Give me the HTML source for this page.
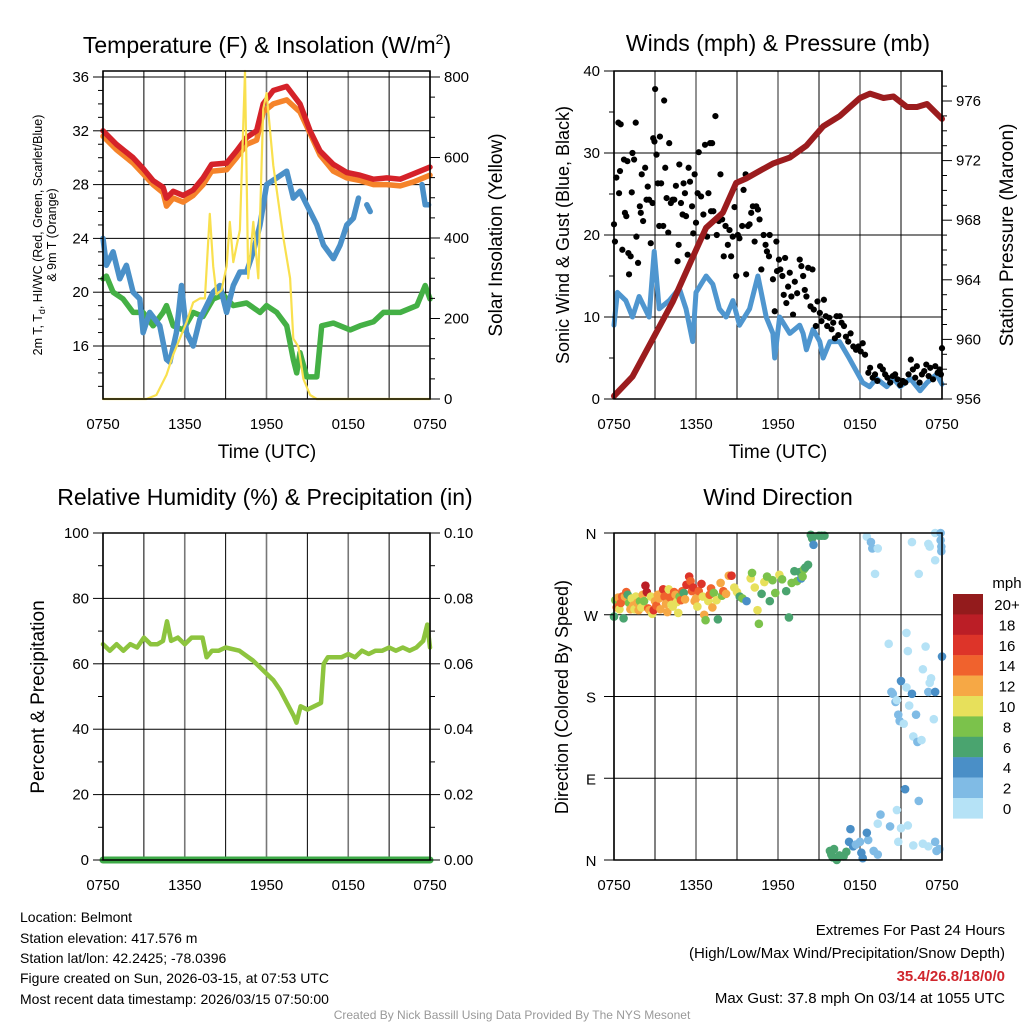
<!DOCTYPE html>
<html><head><meta charset="utf-8">
<style>
html,body{margin:0;padding:0;background:#fff;}
svg{display:block;font-family:"Liberation Sans",Arial,sans-serif;}
</style></head>
<body>
<svg id="chart" width="1024" height="1024" viewBox="0 0 1024 1024" xmlns="http://www.w3.org/2000/svg">
<rect x="0" y="0" width="1024" height="1024" fill="#fff"/>
<text x="267" y="53" font-size="23" text-anchor="middle">Temperature (F) &amp; Insolation (W/m<tspan font-size="14" dy="-9">2</tspan><tspan dy="9">)</tspan></text>
<text x="778" y="51" font-size="23" text-anchor="middle">Winds (mph) &amp; Pressure (mb)</text>
<text x="265" y="505" font-size="23" text-anchor="middle">Relative Humidity (%) &amp; Precipitation (in)</text>
<text x="778" y="505" font-size="23" text-anchor="middle">Wind Direction</text>
<g font-size="14">
<text x="20" y="922">Location: Belmont</text>
<text x="20" y="943">Station elevation: 417.576 m</text>
<text x="20" y="963">Station lat/lon: 42.2425; -78.0396</text>
<text x="20" y="983">Figure created on Sun, 2026-03-15, at 07:53 UTC</text>
<text x="20" y="1004">Most recent data timestamp: 2026/03/15 07:50:00</text>
</g>
<g font-size="15" text-anchor="end">
<text x="1005" y="935">Extremes For Past 24 Hours</text>
<text x="1005" y="958">(High/Low/Max Wind/Precipitation/Snow Depth)</text>
<text x="1005" y="981" fill="#d0262d" font-weight="bold">35.4/26.8/18/0/0</text>
<text x="1005" y="1003">Max Gust: 37.8 mph On 03/14 at 1055 UTC</text>
</g>
<text x="512" y="1019" font-size="12" fill="#999" text-anchor="middle">Created By Nick Bassill Using Data Provided By The NYS Mesonet</text>
</svg>
<script>
// ---------- data ----------
const xTickLabels = ["0750","1350","1950","0150","0750"];
const tempHours = [0,0.98,2.21,2.94,3.68,4.41,4.66,5.15,5.88,6.62,7.35,7.97,9.07,9.8,10.54,11.27,11.76,12.5,13.48,14.46,15.2,15.93,16.91,17.89,18.87,19.85,20.83,21.81,22.79,24];
const tempRed = [32,31,30,29.2,28.3,27.8,27,27.5,27.2,27.6,28.5,29.5,29.6,30.5,31.5,32,34,35,35.3,34,32,30.5,29.5,28.9,28.7,28.4,28.5,28.4,28.8,29.3];
const tempOrange = [31.6,30.6,29.6,28.8,28,27.4,26.4,27,26.7,27.2,28,29,29.1,30,31,31.3,33.4,34,34.3,33.4,31.8,30.2,29,28.5,28.3,28,28,27.9,28.2,28.7];
const dewHours = [0,0.25,0.74,1.47,2.21,2.94,3.68,4.41,4.66,5.15,5.88,6.62,7.35,8.09,8.82,9.56,10.54,11.52,12.01,12.75,13.48,13.97,14.22,14.46,14.95,15.69,16.05,16.91,18.14,18.87,19.85,20.59,21.81,23.04,23.65,24];
const dewPoint = [21,21.2,20,19.5,18.5,18.5,17.5,18.5,19,17.5,17.2,18.5,18.2,19.5,19.8,19,19.2,18.5,19,18.5,17.5,15,14,15.5,13.7,13.7,17.5,17.7,17.2,17.5,17.8,18.5,18.5,19,20.5,19.5];
const chillHours = [0,0.25,0.74,1.23,1.72,2.21,2.7,2.94,3.43,4.17,4.66,4.9,5.39,5.76,6.13,6.62,7.11,7.6,8.09,8.58,9.07,9.56,10.05,10.54,11.03,11.52,12.01,12.75,13.48,13.97,14.46,14.95,15.69,16.18,16.91,17.4,17.89,18.38,18.75,null,19.36,19.61,null,23.41,23.65,23.9];
const windChill = [24,22,23,21,22,20,19.5,17,18.5,17.5,15,14.8,17,20.5,17,16,18,19,20,20.5,18.5,20.5,21.5,21.5,23,25,28,28.5,29,27,27.5,26.5,25,23.5,22.5,23.5,25,25.5,27,null,26.5,26,null,28,26.5,26.5];
const solarHours = [0,3.19,3.92,4.66,5.15,5.64,6.13,6.62,7.11,7.48,7.84,8.09,8.33,8.7,9.07,9.31,9.56,10.05,10.42,10.66,11.03,11.4,11.76,12.01,12.5,13.24,13.73,13.97,14.34,14.71,15.2,15.69,24];
const solarValues = [0,0,10,60,110,150,190,240,250,250,460,330,260,270,330,440,340,420,815,300,440,300,720,760,580,400,300,150,130,50,10,0,0];
const pressHours = [0,1.35,2.82,4.29,6,6.74,7.96,8.94,9.67,10.65,11.63,12.86,14.08,15.31,16.53,18,18.73,19.72,20.45,21.43,22.17,22.9,24];
const pressure = [956.2,957.5,960,962.5,966,967.5,968.5,970.5,970.8,971.3,971.8,972.2,973,974.3,975,976.2,976.5,976.2,976.3,975.6,975.6,975.8,974.8];
const windHours = [0,0.25,0.86,1.35,1.84,2.57,2.94,3.31,4.04,4.78,5.27,5.76,6,6.74,7.23,7.71,8.2,8.7,9.18,9.92,10.53,11.14,11.63,11.76,12.12,12.86,13.59,13.84,14.08,14.57,15.06,15.3,15.8,16.5,17.2,17.7,18.2,18.7,19.2,19.96,20.45,20.94,21.67,22.4,22.9,23.6,24];
const windSpeed = [9,13,12,10,12.5,10,18,11,12,13.5,11,7,13,15,14,11,10,12,9,11,15,10,8,5,10,8,9,8,6,8.5,7,5,7,7,5,3.5,2,1.5,2.5,1.5,2.5,1.5,2.5,1,2,3,1.8];
const gustHours = [0,0.07,0.17,0.32,0.49,0.37,0.44,0.61,0.8,0.9,1.05,1.1,1.22,0.73,0.98,1.35,1.3,1.47,1.59,1.64,1.76,1.89,1.96,2.03,2.13,2.28,2.38,2.47,2.57,2.69,2.82,2.87,2.96,3.01,3.11,3.21,3.31,3.36,3.45,3.6,3.67,3.75,3.85,3.97,4.04,4.16,4.29,4.41,4.53,4.65,4.73,4.78,4.9,5.02,5.09,5.19,5.27,5.39,5.46,5.56,5.71,5.8,5.9,6,6.12,6.2,6.37,6.54,6.66,6.81,6.91,7.03,7.18,7.1,7.27,7.42,7.52,7.67,7.79,7.91,8.03,8.16,8.33,8.45,8.57,8.69,8.82,8.94,9.06,9.18,9.38,9.48,9.63,9.67,9.8,9.92,10.04,10.16,10.29,10.41,10.53,10.65,10.78,10.95,11.09,11.19,11.34,11.39,11.63,11.76,11.88,11.93,12.07,12.17,12.32,12.42,12.52,12.61,12.74,12.86,12.98,13.1,13.23,13.4,13.59,13.71,13.84,13.96,14.08,14.21,14.38,14.52,14.62,14.77,14.89,15.06,15.18,15.36,15.5,15.6,15.75,15.92,16.04,16.16,16.29,16.41,16.53,16.65,16.83,16.97,17.14,17.31,17.51,17.71,17.88,18.05,18.2,18.37,18.61,18.74,18.93,19.1,19.27,19.47,19.67,19.84,20.01,20.21,20.4,20.57,20.75,20.94,21.14,21.31,21.55,21.72,21.87,22.04,22.16,22.36,22.53,22.7,22.85,23.02,23.14,23.34,23.51,23.68,23.83,23.92,24];
const gustSpeed = [21.3,19.2,27,33.7,33.5,25.1,27.8,18.2,22.7,22.3,17.8,15.2,17.4,29.2,29,30,25.2,29.2,33.7,19.8,16.6,23.5,22.7,27.4,21.7,28.2,24.3,25.9,24.3,19,23.9,31.8,31.4,37.8,29.8,26.3,21.1,32,26.3,21.1,36.4,28.2,24.5,20.3,31.2,23.9,24.3,24.3,26,16.8,18.8,28.6,23.9,22.5,26.3,25.1,22.3,17.6,28.2,26.5,23.5,20.2,27.4,21.5,25.1,30.1,24.7,22.5,31,19.8,25.1,31.2,31.2,22.9,22.9,34.5,20,21.7,27.4,21.9,17.4,21.1,18.8,20.6,17.4,19.8,23.4,15,20,19.6,21.1,25.5,27.4,15.2,21.1,21.3,22.7,23.5,19.2,23.5,23.1,21.9,15.8,20,18.8,18,17.4,20,14.6,10.7,19.2,15.6,17,15.8,15,12.7,17.2,11.7,13.7,15.4,12.5,10.3,14.3,12.9,17,16.2,15,13.3,12.5,16,11.3,15.8,10.9,8.9,11.9,10.5,9.5,12.1,10.1,8.9,9.9,8.5,9.3,7.4,10.1,7.8,10.1,9.3,8.9,7.6,7,8,6.4,6,6.4,5.8,6.8,5.4,3.2,3.8,2.6,3,2.2,4,3.6,3,2.6,2,2.8,3,2.4,1.7,2.2,2,3,4.8,3.6,2.6,4,2,3,3.4,4.2,2.8,3.8,2.4,4,3.2,3.6,3,6.2];
const rhHours = [0,0.5,1,1.5,2,2.5,3,3.5,4,4.4,4.7,5,5.5,6,6.5,7,7.3,7.6,8,8.5,9,10,11,12,12.5,13,13.5,14,14.2,14.5,15,15.5,16,16.2,16.5,17,17.5,18,18.5,19,19.5,20,20.5,21,21.5,22,22.5,23,23.5,23.8,24];
const rhValues = [66,64,66,64,66,65,68,66,66,67,73,67,68,66,68,68,68,62,64,64,65,64,61,57,55,52,48,44,42,47,46,47,48,60,62,62,62,63,62,64,63,64,64,65,64,65,64,65,67,72,65];
const precipHours = [0,24];
const precipValues = [0,0];
const dirHours = [0,0.1,0.2,0.3,0.4,0.5,0.6,0.7,0.8,0.9,1.0,1.1,1.2,1.3,1.4,1.5,1.6,1.7,1.8,1.9,2.0,2.1,2.2,2.3,2.4,2.5,2.6,2.7,2.8,2.9,3.0,3.1,3.2,3.3,3.4,3.5,3.6,3.7,3.8,3.9,4.0,4.1,4.2,4.3,4.4,4.5,4.6,4.7,4.8,4.9,5.0,5.1,5.2,5.3,5.5,5.6,5.7,5.8,5.9,6.0,6.1,6.2,6.4,6.5,6.6,6.7,6.9,7.0,7.1,7.2,7.3,7.5,7.6,7.8,7.9,8.0,8.2,8.4,8.6,8.8,9.0,9.2,9.4,9.7,10.0,10.1,10.3,10.5,10.6,10.8,11.0,11.2,11.4,11.6,11.8,12.1,12.3,12.6,12.8,13.0,13.2,13.4,13.6,13.7,13.8,13.9,14.0,14.2,14.4,14.5,14.6,15.0,15.2,15.4,15.8,15.9,16.0,16.1,16.3,16.5,16.8,17.0,17.2,17.3,17.5,17.7,18.0,18.1,18.2,18.6,18.5,18.5,18.8,18.9,19.3,19.1,20.3,20.4,20.6,20.8,20.7,21.0,20.9,21.2,21.6,21.9,21.4,21.8,22.1,22.2,22.5,20.1,21.4,22.6,22.8,21.8,22.3,21.5,23.5,23.0,23.1,23.5,23.9,23.9,23.95,23.95,24.0,23.2,23.0,23.1,23.5,23.4,19.5,19.3,21.3,21.5,22.3,23.0,23.5,23.6,23.8,22.6,21.9,20.8,21.0,20.7,20.2,19.3,19.0];
const dirDegrees = [268,286,278,289,276,283,290,266,290,295,292,283,276,288,280,276,290,283,275,285,278,292,285,302,295,277,275,290,271,275,285,280,292,288,276,294,298,290,282,273,298,289,281,279,295,292,284,272,290,286,296,294,287,303,312,307,296,300,285,288,279,296,304,290,270,264,285,292,299,278,294,286,265,305,291,296,293,313,313,300,295,290,288,285,310,316,300,275,260,293,306,312,285,308,294,314,309,296,267,305,318,307,317,310,312,320,322,325,358,354,347,357,357,357,10,6,3,12,0,5,4,9,20,34,15,17,20,8,2,22,30,356,350,343,343,315,185,183,174,160,176,197,153,150,170,136,190,183,160,130,132,238,250,210,235,350,315,230,360,348,345,330,360,352,345,340,224,200,185,195,185,155,50,40,78,38,65,15,20,10,12,18,16,20,35,55,37,6,10];
const dirSpeeds = [7,9,14,12,11,14,15,7,13,15,7,9,13,11,12,10,11,12,13,9,11,12,8,19,18,14,13,10,11,16,12,15,13,12,13,12,17,14,12,12,10,14,11,10,14,13,11,10,8,14,15,6,13,16,17,15,14,16,12,13,11,14,16,11,12,8,10,15,14,13,9,11,6,12,9,14,12,12,17,11,10,6,8,4,10,9,10,10,8,6,11,8,6,9,8,10,8,6,7,8,7,8,6,5,9,8,6,6,6,6,4,6,6,6,6,6,6,6,6,6,6,6,4,4,4,3,3,4,4,3,4,1,2,3,1,1,2,3,2,2,1,4,3,0,1,1,1,4,2,2,1,1,1,1,1,1,1,0,1,0,0,1,3,3,3,2,4,1,2,1,4,0,2,1,4,1,3,1,2,2,3,1,1,1,1,1,3,2,3];
const speedLabels = ["20+","18","16","14","12","10","8","6","4","2","0"];
const speedColors = ["#931b1c","#bb1e26","#dd3429","#f0622d","#f6a845","#e7e05b","#7bc24b","#4aa46f","#4a8fc7","#80bbe5","#b5e2f6"];

// ---------- helpers ----------
const svg = document.getElementById('chart');
const NS = 'http://www.w3.org/2000/svg';
function mk(tag, attrs, parent){
  const e = document.createElementNS(NS, tag);
  for (const k in attrs) e.setAttribute(k, attrs[k]);
  (parent || svg).appendChild(e);
  return e;
}
function linePath(xs, ys, fx, fy){
  let d = '', pen = false;
  for (let i = 0; i < xs.length; i++){
    if (xs[i] === null || ys[i] === null){ pen = false; continue; }
    d += (pen ? 'L' : 'M') + fx(xs[i]).toFixed(1) + ',' + fy(ys[i]).toFixed(1);
    pen = true;
  }
  return d;
}
function speedColor(s){
  let idx = Math.floor(s / 2);
  if (idx > 10) idx = 10;
  return speedColors[10 - idx];
}

// ---------- panel frame ----------
function panel(x0, y0, x1, y1, name, gridYs){
  const g = mk('g', {});
  
  
  for (let i = 0; i <= 8; i++){
    const x = x0 + (x1 - x0) * i / 8;
    const ln = mk('line', {x1:x, y1:y0, x2:x, y2:y1, stroke: (i % 2 ? '#000' : '#777'), 'stroke-width': (i % 2 ? 1 : 1.6)}, g);
    
    
  }
  gridYs.forEach(y => {
    const ln = mk('line', {x1:x0, y1:y, x2:x1, y2:y, stroke:'#000', 'stroke-width':1}, g);
    
    
  });
  for (let i = 0; i < 5; i++){
    const x = x0 + (x1 - x0) * i / 4;
    const t = mk('text', {x:x, y:y1 + 30, 'font-size':15, 'text-anchor':'middle'});
    t.textContent = xTickLabels[i];
    
    
  }
}
function frame(x0, y0, x1, y1, name){
  const r = mk('rect', {x:x0, y:y0, width:x1 - x0, height:y1 - y0, fill:'none', stroke:'#000', 'stroke-width':1.5});
  
  
}
function yTicks(side, xEdge, vals, fy, labels, minorVals, name){
  const dir = side === 'left' ? -1 : 1;
  vals.forEach((v, i) => {
    const y = fy(v);
    mk('line', {x1:xEdge, y1:y, x2:xEdge + dir * 10, y2:y, stroke:'#000', 'stroke-width':1});
    const t = mk('text', {x:xEdge + dir * 14, y:y + 5, 'font-size':15, 'text-anchor': side === 'left' ? 'end' : 'start'});
    t.textContent = labels[i];
    
    
  });
  minorVals.forEach(v => {
    const y = fy(v);
    mk('line', {x1:xEdge, y1:y, x2:xEdge + dir * 5, y2:y, stroke:'#000', 'stroke-width':1});
  });
}
function rotText(x, y, txt, size, name){
  const t = mk('text', {x:x, y:y, 'font-size':size, 'text-anchor':'middle', transform:'rotate(-90 ' + x + ' ' + y + ')'});
  t.textContent = txt;
  
  
  return t;
}
function seriesPath(d, color, w, name){
  const p = mk('path', {d:d, fill:'none', stroke:color, 'stroke-width':w, 'stroke-linejoin':'round', 'stroke-linecap':'round'});
  
  
  return p;
}
function range(a, b, s){ const r = []; for (let v = a; v <= b + 1e-9; v += s) r.push(+v.toFixed(4)); return r; }

// ---------- Panel 1: temperature ----------
const xT = h => 103 + h * 327 / 24;
const yT = v => 77 + (36 - v) * 269 / 20;
const ySol = w => 399 - w * 322 / 800;
const tMaj = [16,20,24,28,32,36];
panel(103, 71, 430, 399, 'temperature', tMaj.map(yT));
mk('line', {x1:103, y1:71, x2:430, y2:71, stroke:'#000', 'stroke-width':1});
seriesPath(linePath(dewHours, dewPoint, xT, yT), '#44b045', 5.5, 'dewpoint-line');
seriesPath(linePath(chillHours, windChill, xT, yT), '#4a90c8', 5.5, 'windchill-line');
seriesPath(linePath(tempHours, tempOrange, xT, yT), '#f5832a', 5.5, 'temp-9m-line');
seriesPath(linePath(tempHours, tempRed, xT, yT), '#d52229', 5.5, 'temp-2m-line');
seriesPath(linePath(solarHours, solarValues, xT, ySol), '#f9e04e', 2.2, 'solar-insolation-line');
frame(103, 71, 430, 399, 'temperature');
yTicks('left', 103, tMaj, yT, tMaj.map(String), range(13, 35, 1).filter(v => v % 4 !== 0), 'temp-y');
yTicks('right', 430, [0,200,400,600,800], ySol, ['0','200','400','600','800'], range(50, 750, 50).filter(v => v % 200 !== 0), 'solar-y');
let tt = mk('text', {x:267, y:458, 'font-size':19, 'text-anchor':'middle'}); tt.textContent = 'Time (UTC)';


rotText(502, 235, 'Solar Insolation (Yellow)', 19, 'solar-axis-title');
const lt = rotText(42, 235, '', 12.5, 'temperature-axis-title');
lt.innerHTML = '2m T, T<tspan font-size="9" dy="3">d</tspan><tspan dy="-3">, HI/WC (Red, Green, Scarlet/Blue)</tspan>';
rotText(56, 235, '& 9m T (Orange)', 12.5, 'temperature-axis-title-line2');

// ---------- Panel 2: winds ----------
const xW = h => 614 + h * 328 / 24;
const yW = v => 399 - v * 8.2;
const yP = p => 399 - (p - 956) * 14.9;
panel(614, 71, 942, 399, 'winds', [0,10,20,30,40].map(yW));
seriesPath(linePath(windHours, windSpeed, xW, yW), '#4f96cf', 5, 'sonic-wind-line');
const gg = mk('g', {fill:'#000'});


for (let i = 0; i < gustHours.length; i++){
  const c = mk('circle', {cx:xW(gustHours[i]), cy:yW(gustSpeed[i]), r:3.1}, gg);
  
  
}
seriesPath(linePath(pressHours, pressure, xW, yP), '#9b1c1e', 6, 'pressure-line');
frame(614, 71, 942, 399, 'winds');
yTicks('left', 614, [0,10,20,30,40], yW, ['0','10','20','30','40'], [5,15,25,35], 'wind-y');
yTicks('right', 942, [956,960,964,968,972,976], yP, ['956','960','964','968','972','976'], range(957, 977, 1).filter(v => v % 4 !== 0), 'pressure-y');
tt = mk('text', {x:778, y:458, 'font-size':19, 'text-anchor':'middle'}); tt.textContent = 'Time (UTC)';


rotText(569, 235, 'Sonic Wind & Gust (Blue, Black)', 18, 'wind-axis-title');
rotText(1013, 235, 'Station Pressure (Maroon)', 19, 'pressure-axis-title');

// ---------- Panel 3: humidity ----------
const xR = h => 103 + h * 327 / 24;
const yR = v => 860 - v * 3.27;
const yPr = v => 860 - v * 3270;
panel(103, 533, 430, 860, 'humidity', [0,20,40,60,80,100].map(yR));
seriesPath(linePath(rhHours, rhValues, xR, yR), '#8dc43e', 4.5, 'humidity-line');
seriesPath(linePath(precipHours, precipValues, xR, yPr), '#3daa47', 7, 'precipitation-line');
frame(103, 533, 430, 860, 'humidity');
yTicks('left', 103, [0,20,40,60,80,100], yR, ['0','20','40','60','80','100'], [10,30,50,70,90], 'humidity-y');
yTicks('right', 430, [0,0.02,0.04,0.06,0.08,0.10], yPr, ['0.00','0.02','0.04','0.06','0.08','0.10'], [0.01,0.03,0.05,0.07,0.09], 'precip-y');
rotText(44, 697, 'Percent & Precipitation', 19, 'humidity-axis-title');

// ---------- Panel 4: wind direction ----------
const xD = h => 614 + h * 328 / 24;
const yD = d => 860 - d * 327 / 360;
panel(614, 533, 942, 860, 'wind-direction', [0,90,180,270,360].map(yD));
const dg = mk('g', {});


for (let i = 0; i < dirHours.length; i++){
  const c = mk('circle', {cx:xD(dirHours[i]), cy:yD(dirDegrees[i]), r:4.3, fill:speedColor(dirSpeeds[i])}, dg);
  
  
}
frame(614, 533, 942, 860, 'wind-direction');
['N','E','S','W','N'].forEach((lab, i) => {
  const y = yD(i * 90);
  mk('line', {x1:604, y1:y, x2:614, y2:y, stroke:'#000'});
  const t = mk('text', {x:591, y:y + 6, 'font-size':15, 'text-anchor':'middle'});
  t.textContent = lab;
  
  
});
rotText(568, 697, 'Direction (Colored By Speed)', 18, 'direction-axis-title');
const lg = mk('g', {});


let mt = mk('text', {x:1007, y:588, 'font-size':15, 'text-anchor':'middle'}, lg); mt.textContent = 'mph';


speedLabels.forEach((lab, i) => {
  const y = 594 + i * 20.4;
  const r = mk('rect', {x:953, y:y, width:30, height:20.6, fill:speedColors[i]}, lg);
  
  
  const t = mk('text', {x:1007, y:y + 16, 'font-size':15, 'text-anchor':'middle'}, lg);
  t.textContent = lab;
  
  
});
</script>
</body></html>
